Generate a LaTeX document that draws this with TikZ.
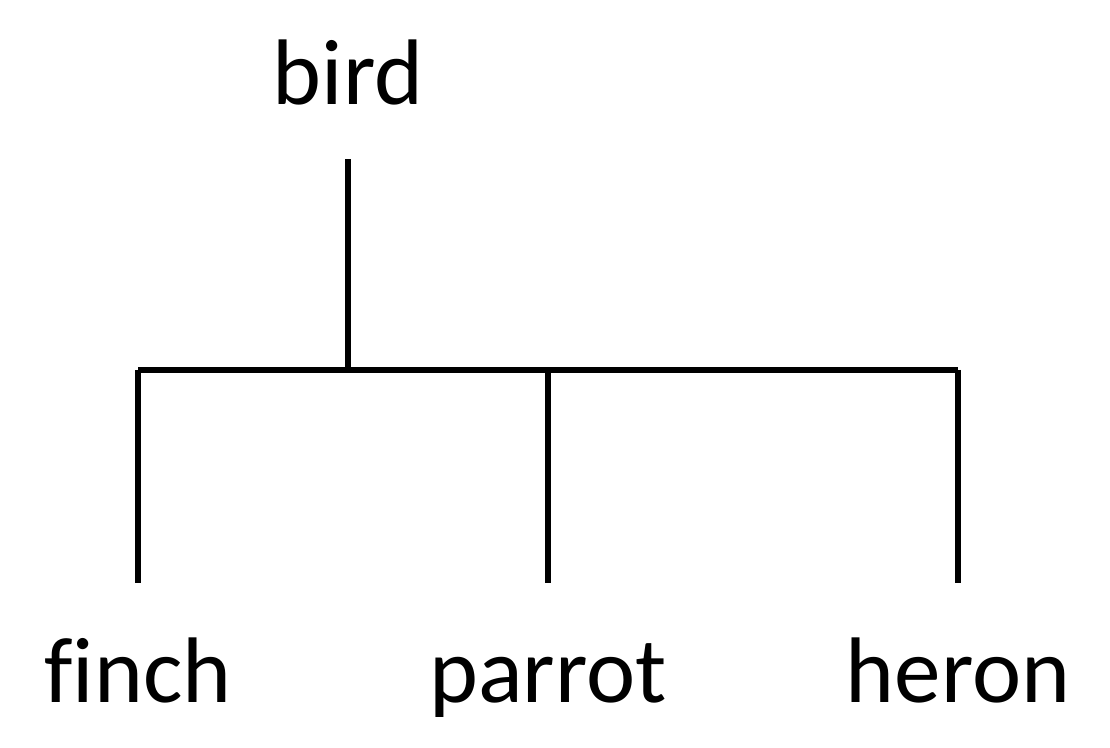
\documentclass[tikz,border=0pt]{standalone}
\usepackage{fontspec}
\setmainfont[Ligatures=NoCommon]{Carlito}
\usepackage{tikz}
\tikzstyle{branch} = [line width=1.8pt]
\tikzstyle{word} = [inner sep=0pt, anchor=base, font=\fontsize{26.5}{32}\selectfont]

\begin{document}
\begin{tikzpicture}
			\useasboundingbox (0,0) rectangle (11.1,7.48);
			\node[word] (bird) at (3.48,6.43) {bird};
			\node[word] (finch) at (1.38,0.45) {finch};
			\node[word] (parrot) at (5.48,0.45) {parrot};
			\node[word] (heron) at (9.58,0.45) {heron};
			\coordinate (bar) at (0,3.78);
			\draw [branch, shorten <=0.53cm] (bird.south) -- (bird |- bar);
			\draw [branch] (finch |- bar) -- (heron |- bar);
			\draw [branch, shorten >=0.55cm] (finch |- bar) -- (finch.north);
			\draw [branch, shorten >=0.55cm] (parrot |- bar) -- (parrot |- finch.north);
			\draw [branch, shorten >=0.55cm] (heron |- bar) -- (heron |- finch.north);
		\end{tikzpicture}
\end{document}
